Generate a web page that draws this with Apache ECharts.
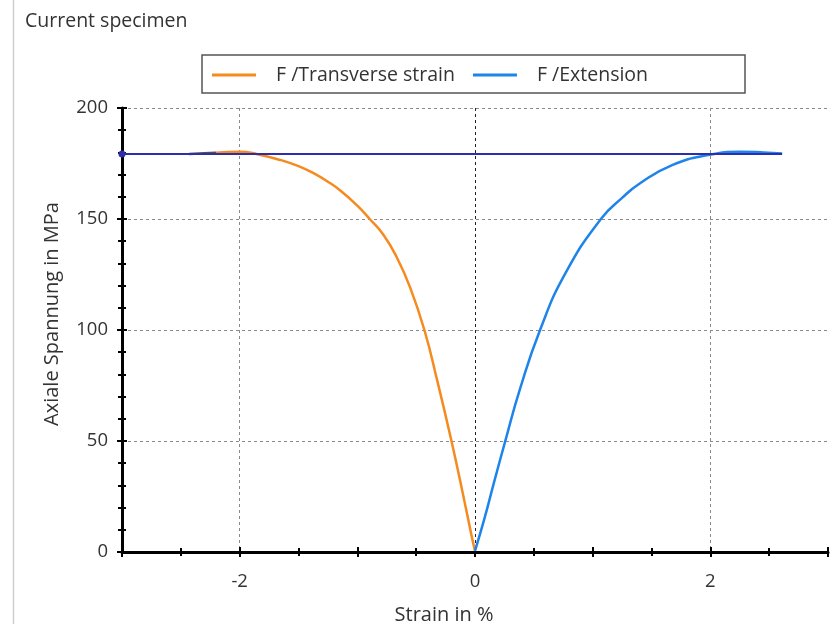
<!DOCTYPE html>
<html>
<head>
<meta charset="utf-8">
<script src="https://cdn.jsdelivr.net/npm/echarts@6/dist/echarts.min.js"></script>
<style>
html, body { margin: 0; background: #fff; }
#main { width: 832px; height: 624px; }
</style>
</head>
<body>
<div id="main"></div>
<script type="text/javascript">
// F / Transverse strain (orange)
var transX = [-2.2, -2.0, -1.85, -1.65, -1.5, -1.365, -1.25, -1.137, -1.0, -0.895, -0.78, -0.667, -0.55, -0.43, -0.32, -0.2, -0.1, -0.03, 0];
var transY = [179.8, 180.3, 179.2, 176.5, 173.8, 170.4, 166.8, 162.5, 156, 150, 143, 133, 119, 100, 77, 50, 25.5, 7.5, 0.5];
// dark start of the transverse curve
var startX = [-2.43, -2.3, -2.2];
var startY = [179.3, 179.6, 179.8];
// F / Extension (blue)
var extX = [0, 0.08, 0.16, 0.26, 0.38, 0.553, 0.77, 1.07, 1.25, 1.4, 1.68, 1.99, 2.25, 2.45, 2.61];
var extY = [0.5, 15, 31, 50.5, 73, 100, 125.7, 150, 159.5, 166, 174.4, 178.9, 180.3, 180, 179.5];
// horizontal line
var flatX = [-3, 2.61];
var flatY = [179.3, 179.3];

var font = 'Open Sans';

function pairs(xs, ys) {
	var out = [];
	for (var i = 0; i < xs.length; i++) out.push([xs[i], ys[i]]);
	return out;
}

var chart = echarts.init(document.getElementById('main'));
var flatData = pairs(flatX, flatY).map(function (p, i) {
	return i === 0 ? { value: p } : { value: p, symbol: 'none' };
});

var option = {
	animation: false,
	textStyle: { fontFamily: font },
	title: {
		text: 'Current specimen',
		left: 25,
		top: 11,
		padding: 0,
		textStyle: { fontSize: 19.5, fontWeight: 'normal', color: '#333', fontFamily: font }
	},
	graphic: [
		{ type: 'line', shape: { x1: 13.5, y1: 0, x2: 13.5, y2: 624 }, style: { stroke: '#cfcfcf', lineWidth: 1.5 } },
		{ type: 'rect', shape: { x: 202, y: 55, width: 543, height: 38 }, style: { fill: 'none', stroke: '#555', lineWidth: 1.5 } }
	],
	legend: {
		data: ['F /Transverse strain', 'F /Extension'],
		left: 212,
		top: 65,
		padding: 0,
		icon: 'rect',
		itemWidth: 44,
		itemHeight: 3,
		itemGap: 18,
		textStyle: { fontSize: 19.5, color: '#333', fontFamily: font, padding: [0, 0, 0, 15] }
	},
	grid: { left: 122, right: 4, top: 108, bottom: 72, outerBoundsMode: 'none' },
	xAxis: [{
		type: 'value',
		min: -3,
		max: 3,
		interval: 1,
		position: 'bottom',
		name: 'Strain in %',
		nameLocation: 'middle',
		nameGap: 53,
		nameTextStyle: { fontSize: 20, color: '#333', padding: [0, 62, 0, 0] },
		axisLine: { onZero: false, lineStyle: { color: '#000', width: 3 } },
		axisTick: { show: true, length: 5, lineStyle: { color: '#000', width: 2 } },
		minorTick: { show: true, splitNumber: 2, length: 4, lineStyle: { color: '#000', width: 2 } },
		axisLabel: {
			fontSize: 18.5, color: '#333', margin: 20,
			formatter: function (v) { return v % 2 === 0 ? String(v) : ''; }
		},
		splitLine: {
			show: true,
			lineStyle: {
				color: ['rgba(0,0,0,0)', '#8a8a8a', 'rgba(0,0,0,0)', '#222', 'rgba(0,0,0,0)', '#8a8a8a', 'rgba(0,0,0,0)'],
				type: [3, 3], width: 1
			}
		}
	}, {
		// inner half of the ticks
		type: 'value',
		min: -3,
		max: 3,
		interval: 1,
		position: 'bottom',
		axisLine: { show: false, onZero: false },
		axisTick: { show: true, inside: true, length: 5, lineStyle: { color: '#000', width: 2 } },
		minorTick: { show: true, splitNumber: 2, length: 4, lineStyle: { color: '#000', width: 2 } },
		axisLabel: { show: false },
		splitLine: { show: false }
	}],
	yAxis: [{
		type: 'value',
		min: 0,
		max: 200,
		interval: 50,
		position: 'left',
		name: 'Axiale Spannung in MPa',
		nameLocation: 'middle',
		nameGap: 60,
		nameTextStyle: { fontSize: 20, color: '#333', padding: [0, 0, 0, 32] },
		axisLine: { show: true, onZero: false, lineStyle: { color: '#000', width: 3 } },
		axisTick: { show: true, length: 5, lineStyle: { color: '#000', width: 2 } },
		minorTick: { show: true, splitNumber: 5, length: 4, lineStyle: { color: '#000', width: 2 } },
		axisLabel: { fontSize: 18.5, color: '#333', margin: 14 },
		splitLine: { show: true, lineStyle: { color: '#8a8a8a', type: [3, 3], width: 1 } }
	}, {
		type: 'value',
		min: 0,
		max: 200,
		interval: 50,
		position: 'left',
		axisLine: { show: false, onZero: false },
		axisTick: { show: true, inside: true, length: 5, lineStyle: { color: '#000', width: 2 } },
		minorTick: { show: true, splitNumber: 5, length: 4, lineStyle: { color: '#000', width: 2 } },
		axisLabel: { show: false },
		splitLine: { show: false }
	}],
	series: [{
		name: 'F /Transverse strain',
		type: 'line',
		data: pairs(transX, transY),
		smooth: 0.5,
		symbol: 'none',
		color: '#f58a1f',
		lineStyle: { width: 2.5 }
	}, {
		name: 'F /Extension',
		type: 'line',
		data: pairs(extX, extY),
		smooth: 0.5,
		symbol: 'none',
		color: '#1e84ea',
		lineStyle: { width: 2.5 }
	}, {
		name: 'start',
		type: 'line',
		data: pairs(startX, startY),
		symbol: 'none',
		color: '#55503f',
		lineStyle: { width: 2.5 }
	}, {
		name: 'flat',
		type: 'line',
		data: flatData,
		symbol: 'circle',
		symbolSize: 7,
		color: '#2e2eaa',
		lineStyle: { width: 2 }
	}]
};
chart.setOption(option);
</script>
</body>
</html>
